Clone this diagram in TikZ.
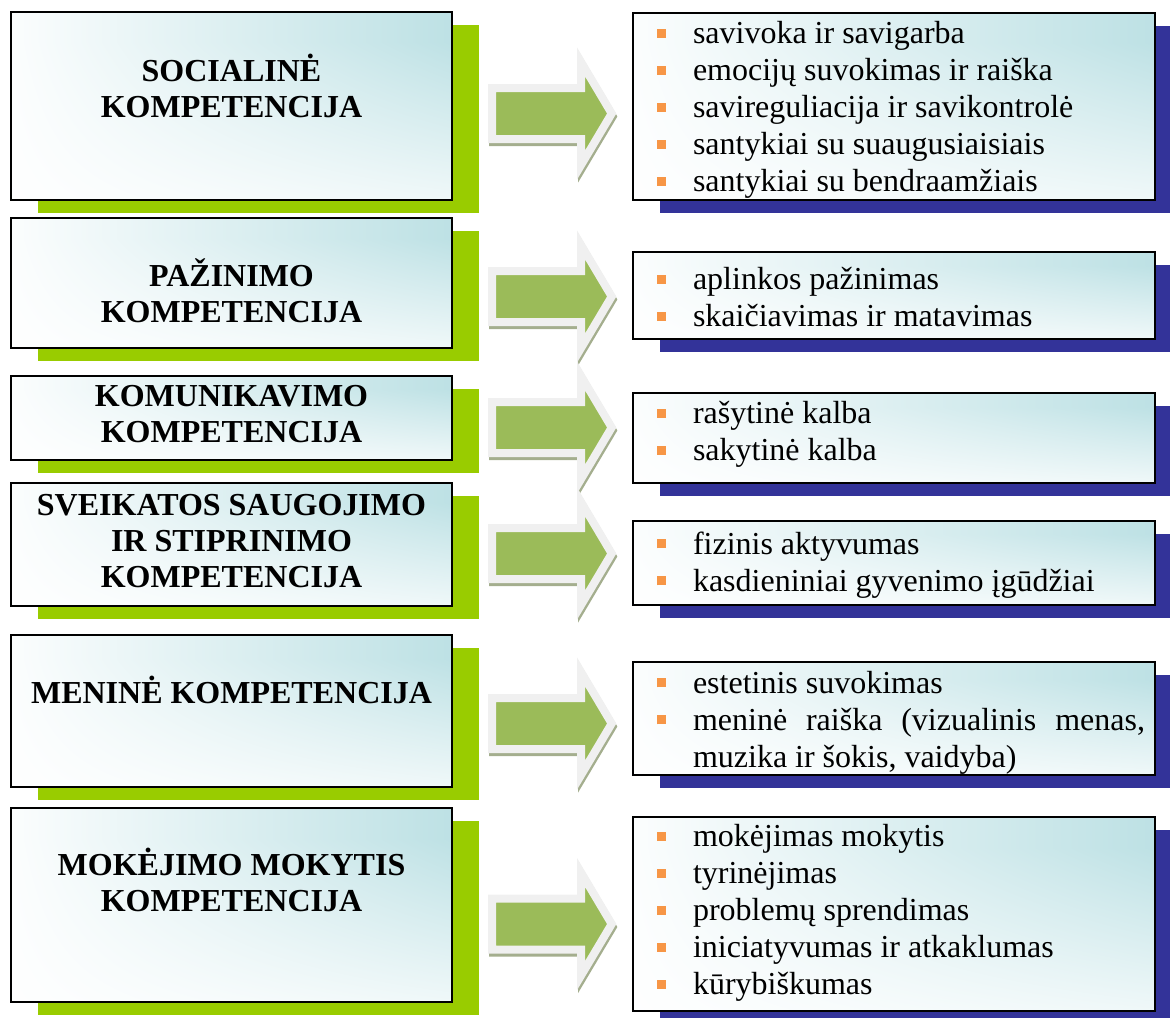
\documentclass[tikz,border=0pt]{standalone}
\usepackage{fontspec}
\setmainfont{Liberation Serif}
\usepackage{enumitem}
\usetikzlibrary{shadows}

\definecolor{limesh}{HTML}{99CC00}
\definecolor{navysh}{HTML}{333399}
\definecolor{arrgreen}{HTML}{9BBB59}
\definecolor{arredge}{HTML}{F0F0F0}
\definecolor{arrshade}{HTML}{A4AE8E}
\definecolor{bulor}{HTML}{F79646}

% white (left, bottom) to teal (top right)
\pgfdeclarefunctionalshading{boxgrad}{\pgfpoint{0bp}{0bp}}{\pgfpoint{100bp}{100bp}}{}{
  12 sub 55 div dup 0 lt {pop 0} if dup 1 gt {pop 1} if
  exch 22 sub 58 div dup 0 lt {pop 0} if dup 1 gt {pop 1} if
  mul
  dup 0.282 mul 1 exch sub
  exch dup 0.129 mul 1 exch sub
  exch 0.114 mul 1 exch sub
}

% orange square bullet
\newcommand{\bsq}{\raisebox{2.8pt}{\textcolor{bulor}{\rule{4.6pt}{4.6pt}}}}
\newlist{skills}{itemize}{1}
\setlist[skills]{label=\bsq, leftmargin=18pt, labelwidth=18pt, labelsep=0pt, align=left, nosep}
\tolerance=10000
\hyphenpenalty=10000

\begin{document}
\begin{tikzpicture}[x=0.5pt, y=-0.5pt,
  lbox/.style={shade, shading=boxgrad, draw, line width=1pt, minimum width=220.5pt, inner sep=0pt,
    drop shadow={shadow xshift=13.5pt, shadow yshift=-6.5pt, fill=limesh, opacity=1}},
  ltext/.style={font=\bfseries\fontsize{16}{18}\selectfont, align=center, inner sep=0pt},
  rbox/.style={shade, shading=boxgrad, draw, line width=1pt, minimum width=261pt, inner sep=0pt,
    drop shadow={shadow xshift=13.5pt, shadow yshift=-6.5pt, fill=navysh, opacity=1}},
  rlist/.style={text width=244pt, inner sep=0pt, align=justify, font=\fontsize{16}{18.5}\selectfont},
  grarrow/.pic={
    \draw[draw=arrshade, fill=arrshade, line width=4pt, shift={(1,3)}]
      (0,-25.5) -- (89,-25.5) -- (89,-51.6) -- (119.7,0) -- (89,51.6) -- (89,25.5) -- (0,25.5) -- cycle;
    \draw[draw=arredge, fill=arrgreen, line width=4pt]
      (0,-25.5) -- (89,-25.5) -- (89,-51.6) -- (119.7,0) -- (89,51.6) -- (89,25.5) -- (0,25.5) -- cycle;
  }]

\useasboundingbox (0,0) rectangle (1170,1017);
\clip (0,0) rectangle (1170,1017);

% Left boxes (competences)
\node[lbox, minimum height=94pt] (l1) at (231.5,106) {};
\node[lbox, minimum height=65pt] (l2) at (231.5,283) {};
\node[lbox, minimum height=42pt] (l3) at (231.5,418) {};
\node[lbox, minimum height=61.5pt] (l4) at (231.5,544.5) {};
\node[lbox, minimum height=76pt] (l5) at (231.5,711) {};
\node[lbox, minimum height=97pt] (l6) at (231.5,905) {};

% Titles of the competences
\node[ltext] (t1) at (231.5,86) {SOCIALINĖ\\KOMPETENCIJA};
\node[ltext] (t2) at (231.5,291) {PAŽINIMO\\KOMPETENCIJA};
\node[ltext] (t3) at (231.5,414.5) {KOMUNIKAVIMO\\KOMPETENCIJA};
\node[ltext] (t4) at (231.5,541) {SVEIKATOS SAUGOJIMO\\IR STIPRINIMO\\KOMPETENCIJA};
\node[ltext] (t5) at (231.5,690) {MENINĖ KOMPETENCIJA};
\node[ltext] (t6) at (231.5,879.5) {MOKĖJIMO MOKYTIS\\KOMPETENCIJA};

% Arrows
\pic (a1) at (492,113.5) {grarrow};
\pic (a2) at (492,296.5) {grarrow};
\pic (a3) at (492,427.5) {grarrow};
\pic (a4) at (492,553.5) {grarrow};
\pic (a5) at (492,723.5) {grarrow};
\pic (a6) at (492,924) {grarrow};

% Right boxes (areas)
\node[rbox, minimum height=93.5pt] (r1) at (894,106.5) {};
\node[rbox, minimum height=43.5pt] (r2) at (894,295.5) {};
\node[rbox, minimum height=45pt] (r3) at (894,438) {};
\node[rbox, minimum height=42pt] (r4) at (894,563) {};
\node[rbox, minimum height=56.5pt] (r5) at (894,718.5) {};
\node[rbox, minimum height=97pt] (r6) at (894,914) {};

% Items of the areas
\node[rlist] (s1) at (901,102.5) {\begin{skills}
  \item savivoka ir savigarba
  \item emocijų suvokimas ir raiška
  \item savireguliacija ir savikontrolė
  \item santykiai su suaugusiaisiais
  \item santykiai su bendraamžiais
\end{skills}};
\node[rlist] (s2) at (901,289.5) {\begin{skills}
  \item aplinkos pažinimas
  \item skaičiavimas ir matavimas
\end{skills}};
\node[rlist] (s3) at (901,427) {\begin{skills}
  \item rašytinė kalba
  \item sakytinė kalba
\end{skills}};
\node[rlist] (s4) at (901,557.5) {\begin{skills}
  \item fizinis aktyvumas
  \item kasdieniniai gyvenimo įgūdžiai
\end{skills}};
\node[rlist] (s5) at (901,715) {\begin{skills}
  \item estetinis suvokimas
  \item meninė raiška (vizualinis menas, muzika ir šokis, vaidyba)
\end{skills}};
\node[rlist] (s6) at (901,905.5) {\begin{skills}
  \item mokėjimas mokytis
  \item tyrinėjimas
  \item problemų sprendimas
  \item iniciatyvumas ir atkaklumas
  \item kūrybiškumas
\end{skills}};

\end{tikzpicture}
\end{document}
